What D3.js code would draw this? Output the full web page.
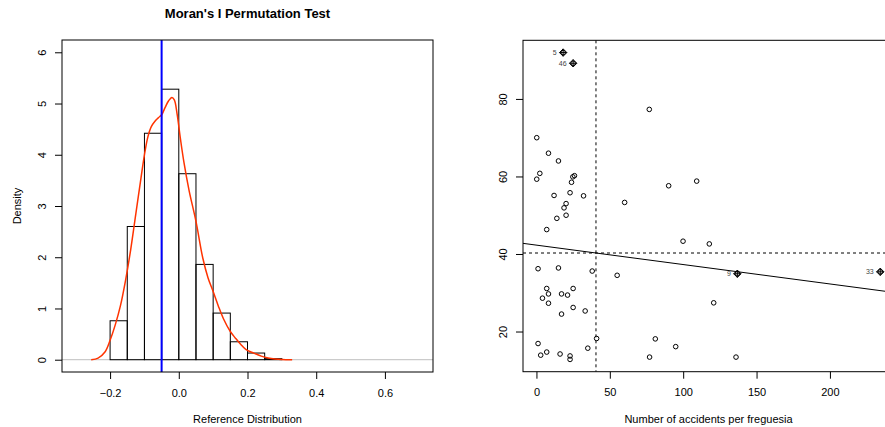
<!DOCTYPE html>
<html><head><meta charset="utf-8">
<script src="https://cdn.jsdelivr.net/npm/d3@7"></script>
<style>
body{margin:0;background:#fff}
text{font-family:"Liberation Sans",Arial,Helvetica,sans-serif;fill:#000}
</style>
</head><body>
<svg id="c" width="885" height="427"></svg>
<script>
// ---------- Data: permutation test histogram ----------
const histBreaks = [-0.20,-0.15,-0.10,-0.05,0.00,0.05,0.10,0.15,0.20,0.25,0.30];
const histDensity = [0.76,2.60,4.42,5.28,3.63,1.86,0.91,0.35,0.13,0.02];
const densityX = [-0.255,-0.235,-0.215,-0.200,-0.185,-0.170,-0.155,-0.140,-0.125,-0.110,-0.100,-0.090,-0.080,-0.070,-0.060,-0.050,-0.040,-0.030,-0.020,-0.013,-0.005,0.005,0.015,0.030,0.050,0.070,0.085,0.100,0.115,0.130,0.150,0.165,0.180,0.195,0.210,0.225,0.240,0.260,0.280,0.300,0.330];
const densityY = [0.00,0.03,0.15,0.38,0.68,1.05,1.55,2.15,2.85,3.55,4.00,4.35,4.55,4.65,4.72,4.78,4.92,5.05,5.12,5.07,4.80,4.30,3.85,3.30,2.70,1.98,1.60,1.33,1.05,0.80,0.55,0.42,0.30,0.20,0.15,0.11,0.07,0.035,0.015,0.005,0.00];
const observedI = -0.050;
const histXLim = [-0.3, 0.7];
const histYLim = [0, 6];
const histXTicks = [-0.2, 0.0, 0.2, 0.4, 0.6];
const histYTicks = [0, 1, 2, 3, 4, 5, 6];

// ---------- Data: Moran scatterplot ----------
const accidents = [18.2,25.0,76.9,0.2,8.2,15.0,2.3,0.2,24.8,25.9,23.9,90.1,109.2,12.0,22.9,32.1,60.1,20.2,18.8,20.2,13.9,7.0,99.9,117.8,1.1,15.0,38.0,55.0,136.9,7.0,8.2,4.1,8.2,17.1,21.2,25.0,25.0,33.2,17.1,120.8,1.1,41.0,81.0,94.9,35.0,2.9,7.0,16.1,22.9,22.9,77.1,136.0,234.3];
const laggedAccidents = [91.96,89.2,77.3,70.0,66.0,64.0,60.8,59.3,59.9,60.2,58.5,57.6,58.8,55.1,55.8,55.0,53.3,53.0,51.9,50.0,49.2,46.3,43.3,42.6,36.2,36.4,35.6,34.5,34.9,31.1,29.7,28.6,27.3,29.7,29.4,31.1,26.2,25.3,24.5,27.4,16.9,18.2,18.1,16.1,15.7,13.9,14.7,14.2,13.7,12.8,13.4,13.4,35.4];
const influentialIndex = [0, 1, 28, 52];
const influentialLabels = ["5", "46", "9", "33"];
const scatterXTicks = [0, 50, 100, 150, 200];
const scatterYTicks = [20, 40, 60, 80];

const svg = d3.select("#c");
svg.append("rect").attr("width",885).attr("height",427).attr("fill","#fff");
const ext = (a) => { const d = (a[1]-a[0])*0.04; return [a[0]-d, a[1]+d]; };

// ================= LEFT PANEL =================
const L = {x0:62, x1:433, y0:40, y1:372};
const hx = d3.scaleLinear().domain(ext(histXLim)).range([L.x0, L.x1]);
const hy = d3.scaleLinear().domain(ext(histYLim)).range([L.y1, L.y0]);
const gl = svg.append("g");

gl.append("line").attr("x1",L.x0).attr("x2",L.x1).attr("y1",hy(0)).attr("y2",hy(0))
  .attr("stroke","#bebebe").attr("stroke-width",1);

gl.selectAll("rect.bar").data(histDensity).join("rect").attr("class","bar")
  .attr("x",(d,i)=>hx(histBreaks[i]))
  .attr("width",(d,i)=>hx(histBreaks[i+1])-hx(histBreaks[i]))
  .attr("y",d=>hy(d)).attr("height",d=>hy(0)-hy(d))
  .attr("fill","none").attr("stroke","#000").attr("stroke-width",1);

gl.append("path").datum(densityX.map((x,i)=>[x,densityY[i]]))
  .attr("d", d3.line().x(d=>hx(d[0])).y(d=>hy(d[1])).curve(d3.curveCatmullRom))
  .attr("fill","none").attr("stroke","#ff3300").attr("stroke-width",1.5);

gl.append("line").attr("x1",hx(observedI)).attr("x2",hx(observedI)).attr("y1",L.y0).attr("y2",L.y1)
  .attr("stroke","#0000ff").attr("stroke-width",2);

gl.append("rect").attr("x",L.x0).attr("y",L.y0).attr("width",L.x1-L.x0).attr("height",L.y1-L.y0)
  .attr("fill","none").attr("stroke","#000").attr("stroke-width",1);

const fmtL = d => d===0 ? "0.0" : d3.format(".1f")(d).replace("-","\u2212");
const axB = gl.append("g").attr("transform",`translate(0,${L.y1})`)
  .call(d3.axisBottom(hx).tickValues(histXTicks).tickFormat(fmtL).tickSize(7).tickSizeOuter(0).tickPadding(10));
const axL = gl.append("g").attr("transform",`translate(${L.x0},0)`)
  .call(d3.axisLeft(hy).tickValues(histYTicks).tickFormat(d3.format("d")).tickSize(7).tickSizeOuter(0));

function styleAxis(g, rotate, off){
  g.select(".domain").remove();
  g.selectAll(".tick line").attr("stroke","#000");
  g.selectAll(".tick text").attr("font-size",11).attr("fill","#000")
    .style("font-family",'"Liberation Sans",Arial,sans-serif');
  if(rotate){
    g.selectAll(".tick text").attr("transform","rotate(-90)").attr("x",0).attr("y",off)
      .attr("dy",0).attr("text-anchor","middle");
  }
  g.attr("font-family",null).attr("font-size",null);
}
styleAxis(axB,false);
styleAxis(axL,true,-16.5);

gl.append("text").attr("x",(L.x0+L.x1)/2).attr("y",18).attr("text-anchor","middle")
  .attr("font-size",13).attr("font-weight","bold").text("Moran's I Permutation Test");
gl.append("text").attr("x",(L.x0+L.x1)/2).attr("y",422.5).attr("text-anchor","middle")
  .attr("font-size",11).text("Reference Distribution");
gl.append("text").attr("transform",`translate(20.5,${(L.y0+L.y1)/2}) rotate(-90)`).attr("text-anchor","middle")
  .attr("font-size",11).text("Density");

// ================= RIGHT PANEL =================
const R = {x0:523, x1:894, y0:40.3, y1:371.7};
const sx = d3.scaleLinear().domain(ext(d3.extent(accidents))).range([R.x0, R.x1]);
const sy = d3.scaleLinear().domain(ext(d3.extent(laggedAccidents))).range([R.y1, R.y0]);
const gr = svg.append("g");
svg.append("clipPath").attr("id","clipR").append("rect")
  .attr("x",R.x0).attr("y",R.y0).attr("width",R.x1-R.x0).attr("height",R.y1-R.y0);

const pts = accidents.map((x,i)=>[x,laggedAccidents[i]]);
const mx = d3.mean(accidents), my = d3.mean(laggedAccidents);
let sxy=0, sxx=0;
pts.forEach(([x,y])=>{ sxy+=(x-mx)*(y-my); sxx+=(x-mx)*(x-mx); });
const slope = sxy/sxx, intercept = my - slope*mx;
const xd = sx.domain();

const clipG = gr.append("g").attr("clip-path","url(#clipR)");
clipG.append("line").attr("x1",sx(xd[0])).attr("x2",sx(xd[1]))
  .attr("y1",sy(intercept+slope*xd[0])).attr("y2",sy(intercept+slope*xd[1]))
  .attr("stroke","#000").attr("stroke-width",1);
clipG.append("line").attr("x1",R.x0).attr("x2",R.x1).attr("y1",sy(my)).attr("y2",sy(my))
  .attr("stroke","#000").attr("stroke-dasharray","3,3");
clipG.append("line").attr("x1",sx(mx)).attr("x2",sx(mx)).attr("y1",R.y0).attr("y2",R.y1)
  .attr("stroke","#000").attr("stroke-dasharray","3,3");

gr.selectAll("circle.pt").data(pts).join("circle").attr("class","pt")
  .attr("cx",d=>sx(d[0])).attr("cy",d=>sy(d[1])).attr("r",2.3)
  .attr("fill","none").attr("stroke","#000").attr("stroke-width",1);

const infl = influentialIndex.map((k,j)=>({x:accidents[k], y:laggedAccidents[k], lab:influentialLabels[j]}));
const s = 3.7;
gr.selectAll("path.infl").data(infl).join("path").attr("class","infl")
  .attr("d",d=>{const cx=sx(d.x), cy=sy(d.y);
    return `M${cx-s},${cy}L${cx},${cy-s}L${cx+s},${cy}L${cx},${cy+s}Z M${cx-s},${cy}L${cx+s},${cy} M${cx},${cy-s}L${cx},${cy+s}`;})
  .attr("fill","none").attr("stroke","#000").attr("stroke-width",1);
gr.selectAll("text.lab").data(infl).join("text").attr("class","lab")
  .attr("x",d=>sx(d.x)-6.5).attr("y",d=>sy(d.y)+2.5).attr("text-anchor","end")
  .attr("font-size",7).style("fill","#444").text(d=>d.lab);

gr.append("rect").attr("x",R.x0).attr("y",R.y0).attr("width",R.x1-R.x0).attr("height",R.y1-R.y0)
  .attr("fill","none").attr("stroke","#000").attr("stroke-width",1);

const rB = gr.append("g").attr("transform",`translate(0,${R.y1})`)
  .call(d3.axisBottom(sx).tickValues(scatterXTicks).tickFormat(d3.format("d")).tickSize(7).tickSizeOuter(0).tickPadding(10));
const rL = gr.append("g").attr("transform",`translate(${R.x0},0)`)
  .call(d3.axisLeft(sy).tickValues(scatterYTicks).tickFormat(d3.format("d")).tickSize(7).tickSizeOuter(0));
styleAxis(rB,false);
styleAxis(rL,true,-16);

gr.append("text").attr("x",(R.x0+R.x1)/2).attr("y",422.5).attr("text-anchor","middle")
  .attr("font-size",11).text("Number of accidents per freguesia");
</script>
</body></html>
